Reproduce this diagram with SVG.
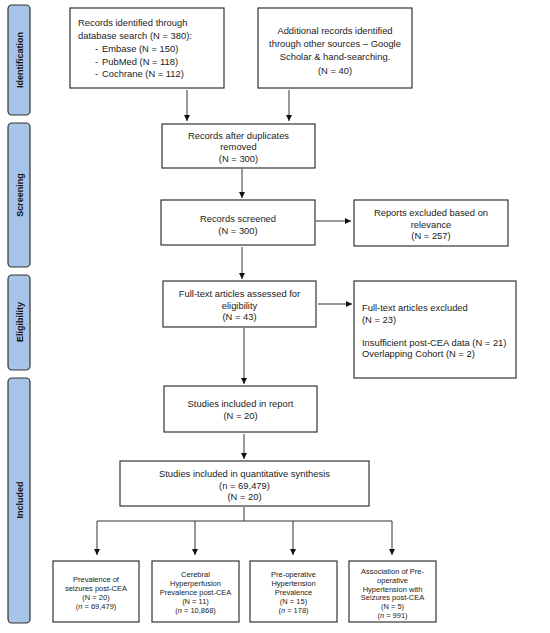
<svg xmlns="http://www.w3.org/2000/svg" width="550" height="633" viewBox="0 0 550 633">
<style>
.box{fill:#fff;stroke:#333;stroke-width:1.2}
.bar{fill:#a6c3e8;stroke:#333;stroke-width:1.2}
.t{font-family:"Liberation Sans",Arial,sans-serif;font-size:9.4px;fill:#222}
.c{text-anchor:middle}
.s{font-family:"Liberation Sans",Arial,sans-serif;font-size:7.5px;fill:#222;text-anchor:middle}
.lab{font-family:"Liberation Sans",Arial,sans-serif;font-size:9px;font-weight:bold;fill:#111;text-anchor:middle}
.ln{stroke:#333;stroke-width:1;fill:none}
</style>
<defs>
<marker id="ah" viewBox="0 0 10 10" refX="10" refY="5" markerWidth="6" markerHeight="6" markerUnits="userSpaceOnUse" orient="auto">
<path d="M0,0 L10,5 L0,10 z" fill="#111"/>
</marker>
</defs>
<rect width="550" height="633" fill="#fff"/>

<g id="bar-identification"><rect class="bar" x="8" y="5" width="22" height="110" rx="4"/><text class="lab" transform="translate(22.5,60) rotate(-90)">Identification</text></g>
<g id="bar-screening"><rect class="bar" x="8" y="123" width="22" height="144" rx="4"/><text class="lab" transform="translate(22.5,195) rotate(-90)">Screening</text></g>
<g id="bar-eligibility"><rect class="bar" x="8" y="275" width="22" height="95" rx="4"/><text class="lab" transform="translate(22.5,322) rotate(-90)">Eligibility</text></g>
<g id="bar-included"><rect class="bar" x="8" y="378" width="22" height="245" rx="4"/><text class="lab" transform="translate(22.5,500) rotate(-90)">Included</text></g>

<g id="n-database"><rect class="box" x="70" y="8" width="154" height="80"/>
<text class="t" x="78" y="25.5">Records identified through</text>
<text class="t" x="78" y="38.5">database search (N = 380):</text>
<text class="t" x="95" y="51.5">-</text><text class="t" x="102" y="51.5">Embase (N = 150)</text>
<text class="t" x="95" y="64.5">-</text><text class="t" x="102" y="64.5">PubMed (N = 118)</text>
<text class="t" x="95" y="77">-</text><text class="t" x="102" y="77">Cochrane (N = 112)</text></g>

<g id="n-other"><rect class="box" x="258" y="8" width="154" height="80"/>
<text class="t c" x="335" y="34">Additional records identified</text>
<text class="t c" x="335" y="47">through other sources – Google</text>
<text class="t c" x="335" y="60">Scholar &amp; hand-searching.</text>
<text class="t c" x="335" y="73.5">(N = 40)</text></g>

<g id="n-dedup"><rect class="box" x="162" y="124" width="153" height="44"/>
<text class="t c" x="238.5" y="138.5">Records after duplicates</text>
<text class="t c" x="238.5" y="150">removed</text>
<text class="t c" x="238.5" y="161.5">(N = 300)</text></g>

<g id="n-screened"><rect class="box" x="161" y="200" width="154" height="45"/>
<text class="t c" x="238" y="221.5">Records screened</text>
<text class="t c" x="238" y="233.5">(N = 300)</text></g>

<g id="n-excl1"><rect class="box" x="354" y="200" width="154" height="46"/>
<text class="t c" x="431" y="215.5">Reports excluded based on</text>
<text class="t c" x="431" y="227.5">relevance</text>
<text class="t c" x="431" y="239">(N = 257)</text></g>

<g id="n-fulltext"><rect class="box" x="163" y="281" width="153" height="46"/>
<text class="t c" x="239.5" y="296.5">Full-text articles assessed for</text>
<text class="t c" x="239.5" y="308.5">eligibility</text>
<text class="t c" x="239.5" y="320">(N = 43)</text></g>

<g id="n-excl2"><rect class="box" x="354" y="281" width="162" height="97"/>
<text class="t" x="362" y="310.5">Full-text articles excluded</text>
<text class="t" x="362" y="322.5">(N = 23)</text>
<text class="t" x="362" y="345.5">Insufficient post-CEA data (N = 21)</text>
<text class="t" x="362" y="357">Overlapping Cohort (N = 2)</text></g>

<g id="n-report"><rect class="box" x="164" y="386" width="153" height="46"/>
<text class="t c" x="240.5" y="406.5">Studies included in report</text>
<text class="t c" x="240.5" y="418.5">(N = 20)</text></g>

<g id="n-quant"><rect class="box" x="120" y="461" width="249" height="45"/>
<text class="t c" x="244.5" y="476.5">Studies included in quantitative synthesis</text>
<text class="t c" x="244.5" y="488.5">(n = 69,479)</text>
<text class="t c" x="244.5" y="500">(N = 20)</text></g>

<g id="n-b1"><rect class="box" x="53" y="561" width="86" height="61"/>
<text class="s" x="96" y="582">Prevalence of</text>
<text class="s" x="96" y="591">seizures post-CEA</text>
<text class="s" x="96" y="600">(N = 20)</text>
<text class="s" x="96" y="609">(<tspan font-style="italic">n</tspan> = 69,479)</text></g>

<g id="n-b2"><rect class="box" x="152" y="561" width="87" height="61"/>
<text class="s" x="195.5" y="577">Cerebral</text>
<text class="s" x="195.5" y="586">Hyperperfusion</text>
<text class="s" x="195.5" y="595">Prevalence post-CEA</text>
<text class="s" x="195.5" y="604">(N = 11)</text>
<text class="s" x="195.5" y="612.5">(<tspan font-style="italic">n</tspan> = 10,868)</text></g>

<g id="n-b3"><rect class="box" x="250" y="561" width="87" height="61"/>
<text class="s" x="293.5" y="577">Pre-operative</text>
<text class="s" x="293.5" y="586">Hypertension</text>
<text class="s" x="293.5" y="595">Prevalence</text>
<text class="s" x="293.5" y="604">(N = 15)</text>
<text class="s" x="293.5" y="612.5">(<tspan font-style="italic">n</tspan> = 178)</text></g>

<g id="n-b4"><rect class="box" x="349" y="561" width="87" height="61"/>
<text class="s" x="392.5" y="574">Association of Pre-</text>
<text class="s" x="392.5" y="583">operative</text>
<text class="s" x="392.5" y="591.5">Hypertension with</text>
<text class="s" x="392.5" y="600">Seizures post-CEA</text>
<text class="s" x="392.5" y="609">(N = 5)</text>
<text class="s" x="392.5" y="617.5">(<tspan font-style="italic">n</tspan> = 991)</text></g>

<g id="connectors">
<line class="ln" x1="187" y1="90" x2="187" y2="121" marker-end="url(#ah)"/>
<line class="ln" x1="289" y1="90" x2="289" y2="121" marker-end="url(#ah)"/>
<line class="ln" x1="242" y1="169" x2="242" y2="198" marker-end="url(#ah)"/>
<line class="ln" x1="316" y1="221" x2="351" y2="221" marker-end="url(#ah)"/>
<line class="ln" x1="242" y1="247" x2="242" y2="279" marker-end="url(#ah)"/>
<line class="ln" x1="318" y1="304" x2="352" y2="304" marker-end="url(#ah)"/>
<line class="ln" x1="244" y1="328" x2="244" y2="384" marker-end="url(#ah)"/>
<line class="ln" x1="244" y1="434" x2="244" y2="459" marker-end="url(#ah)"/>
<path class="ln" d="M244,507 V521 M97,521 H392"/>
<line class="ln" x1="97" y1="521" x2="97" y2="555" marker-end="url(#ah)"/>
<line class="ln" x1="195" y1="521" x2="195" y2="555" marker-end="url(#ah)"/>
<line class="ln" x1="293" y1="521" x2="293" y2="555" marker-end="url(#ah)"/>
<line class="ln" x1="392" y1="521" x2="392" y2="555" marker-end="url(#ah)"/>
</g>
</svg>
